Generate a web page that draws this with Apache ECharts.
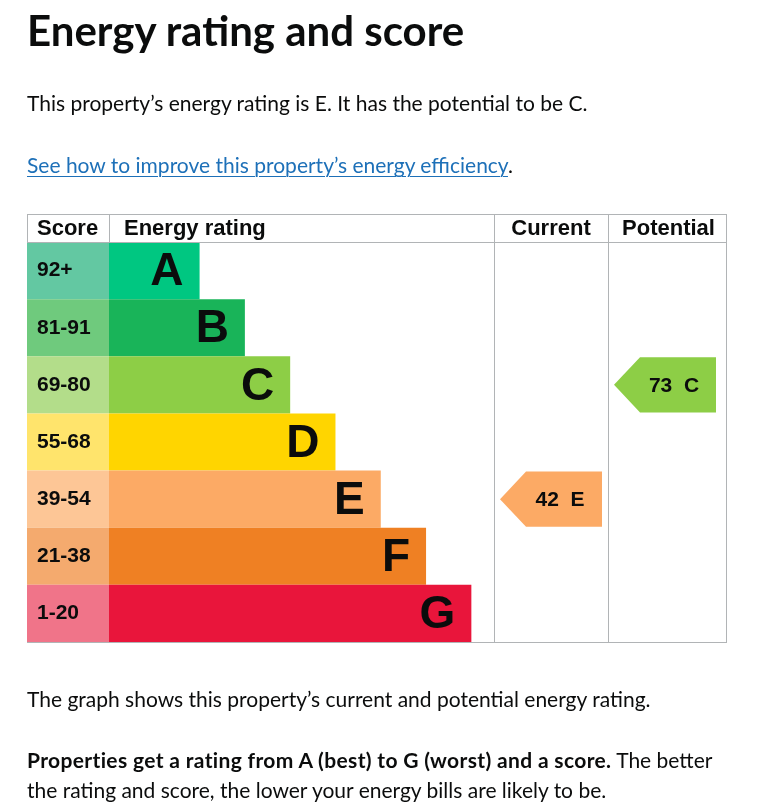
<!DOCTYPE html>
<html>
<head>
<meta charset="utf-8">
<script src="https://cdn.jsdelivr.net/npm/echarts@6/dist/echarts.min.js"></script>
<style>
  html, body { margin: 0; padding: 0; width: 763px; height: 811px; background: #fff; overflow: hidden; }
  #chart { position: absolute; left: 0; top: 0; width: 763px; height: 811px; }
  .t { position: absolute; left: 27px; color: #0b0c0c; font-family: Lato, "Noto Sans", sans-serif; white-space: nowrap; z-index: 2; }
  .h1 { font-size: 42px; font-weight: 700; line-height: 1.2; top: 5px; }
  .body { font-size: 21px; line-height: 1.2; }
  b { letter-spacing: 0.35px; }
  a { color: #1d70b8; text-decoration: underline; text-underline-offset: 3px; text-decoration-thickness: 1px; }
</style>
</head>
<body>
<div id="chart"></div>
<div class="t h1">Energy rating and score</div>
<div class="t body" style="top:90px">This property’s energy rating is E. It has the potential to be C.</div>
<div class="t body" style="top:152px"><a href="#">See how to improve this property’s energy efficiency</a>.</div>
<div class="t body" style="top:686px">The graph shows this property’s current and potential energy rating.</div>
<div class="t body" style="top:745px; line-height:30px"><b>Properties get a rating from A (best) to G (worst) and a score.</b> The better<br>the rating and score, the lower your energy bills are likely to be.</div>
<script>
// ---- data ----
const ratings = ['A', 'B', 'C', 'D', 'E', 'F', 'G'];
const scoreBands = ['92+', '81-91', '69-80', '55-68', '39-54', '21-38', '1-20'];
const barLengths = [20, 30, 40, 50, 60, 70, 80];
const bandColors = ['#00c781', '#19b459', '#8dce46', '#ffd500', '#fcaa65', '#ef8023', '#e9153b'];
const scoreColors = ['#63c8a2', '#6fca7d', '#b3dd8a', '#ffe46c', '#fdc696', '#f4aa6e', '#f07489'];
const columnHeaders = ['Score', 'Energy rating', 'Current', 'Potential'];
const currentScore = 42;
const currentRating = 'E';
const potentialScore = 73;
const potentialRating = 'C';

// ---- layout ----
const TOP = 242, H = 400, HEAD_TOP = 214;
const colX = [27, 109, 494, 608, 727];
const border = '#b1b4b6';
const ink = '#0b0c0c';
const arial = 'Liberation Sans, Arial, sans-serif';

const chart = echarts.init(document.getElementById('chart'), null, { renderer: 'canvas' });

function grid(i) {
  return { left: colX[i], top: TOP, width: colX[i + 1] - colX[i], height: H, containLabel: false };
}
function hiddenX(i, max) {
  return { gridIndex: i, type: 'value', min: 0, max: max, show: false };
}
function hiddenY(i, data) {
  return { gridIndex: i, type: 'category', data: data, inverse: true, show: false };
}

function arrowRender(params, api) {
  const idx = api.value(1);
  const c = api.coord([0, idx]);
  const bandH = api.size([0, 1])[1];
  const x0 = params.coordSys.x + 6;
  const w = 102, tip = 26;
  const yTop = c[1] - bandH / 2 + 1, yBot = c[1] + bandH / 2 - 1;
  const color = bandColors[idx];
  return {
    type: 'group',
    children: [
      {
        type: 'polygon',
        shape: { points: [[x0, c[1]], [x0 + tip, yTop], [x0 + w, yTop], [x0 + w, yBot], [x0 + tip, yBot]] },
        style: { fill: color }
      },
      {
        type: 'text',
        style: {
          text: api.value(0) + '  ' + ratings[idx],
          x: x0 + 60, y: c[1] + 1,
          align: 'center', verticalAlign: 'middle',
          font: 'bold 21px ' + arial, fill: ink
        }
      }
    ]
  };
}

const graphics = [];
// header texts
const headFont = 'bold 22px ' + arial;
graphics.push({ type: 'text', style: { text: columnHeaders[0], x: 37, y: 229, verticalAlign: 'middle', font: headFont, fill: ink } });
graphics.push({ type: 'text', style: { text: columnHeaders[1], x: 124, y: 229, verticalAlign: 'middle', font: headFont, fill: ink } });
graphics.push({ type: 'text', style: { text: columnHeaders[2], x: (colX[2] + colX[3]) / 2, y: 229, align: 'center', verticalAlign: 'middle', font: headFont, fill: ink } });
graphics.push({ type: 'text', style: { text: columnHeaders[3], x: (colX[3] + colX[4]) / 2 + 1, y: 229, align: 'center', verticalAlign: 'middle', font: headFont, fill: ink } });
// borders
function line(x1, y1, x2, y2) {
  graphics.push({ type: 'line', z: 10, shape: { x1: x1, y1: y1, x2: x2, y2: y2 }, style: { stroke: border, lineWidth: 1 } });
}
line(colX[0], HEAD_TOP + 0.5, colX[4], HEAD_TOP + 0.5);
line(colX[0], TOP + 0.5, colX[4], TOP + 0.5);
line(colX[0], TOP + H + 0.5, colX[4], TOP + H + 0.5);
line(colX[0] + 0.5, HEAD_TOP, colX[0] + 0.5, TOP);
line(colX[1] + 0.5, HEAD_TOP, colX[1] + 0.5, TOP);
line(colX[2] + 0.5, HEAD_TOP, colX[2] + 0.5, TOP + H);
line(colX[3] + 0.5, HEAD_TOP, colX[3] + 0.5, TOP + H);
line(colX[4] - 0.5, HEAD_TOP, colX[4] - 0.5, TOP + H);

const option = {
  animation: false,
  grid: [grid(0), grid(1), grid(2), grid(3)],
  xAxis: [hiddenX(0, 1), hiddenX(1, 85), hiddenX(2, 100), hiddenX(3, 100)],
  yAxis: [hiddenY(0, scoreBands), hiddenY(1, ratings), hiddenY(2, ratings), hiddenY(3, ratings)],
  graphic: graphics,
  series: [
    {
      type: 'bar', xAxisIndex: 0, yAxisIndex: 0, barCategoryGap: 0,
      data: scoreBands.map((s, i) => ({ value: 1, itemStyle: { color: scoreColors[i] } })),
      label: { show: true, position: 'insideLeft', distance: 10, formatter: '{b}', fontFamily: arial, fontWeight: 'bold', fontSize: 21, color: ink },
      silent: true
    },
    {
      type: 'bar', xAxisIndex: 1, yAxisIndex: 1, barCategoryGap: 0,
      data: barLengths.map((v, i) => ({ value: v, itemStyle: { color: bandColors[i] } })),
      label: { show: true, position: 'insideRight', distance: 16, formatter: '{b}', fontFamily: arial, fontWeight: 'bold', fontSize: 46, color: ink, offset: [0, 2] },
      silent: true
    },
    {
      type: 'custom', xAxisIndex: 2, yAxisIndex: 2,
      data: [[currentScore, currentRating]],
      renderItem: arrowRender, silent: true
    },
    {
      type: 'custom', xAxisIndex: 3, yAxisIndex: 3,
      data: [[potentialScore, potentialRating]],
      renderItem: arrowRender, silent: true
    }
  ]
};
chart.setOption(option);
</script>
</body>
</html>
